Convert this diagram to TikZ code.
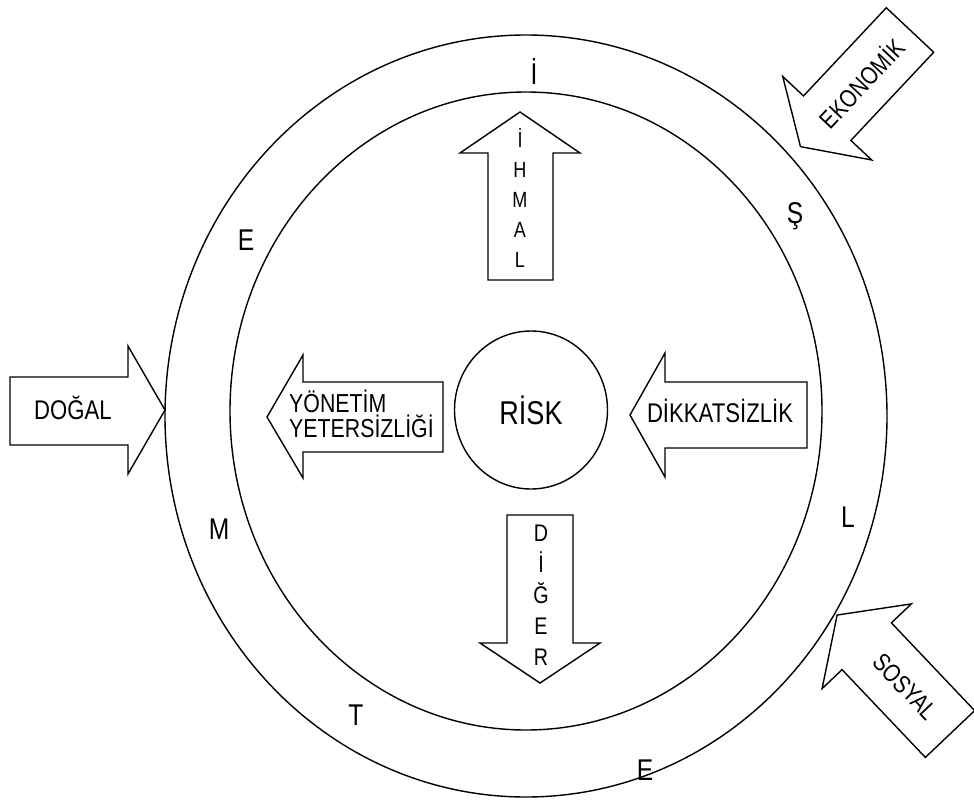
\documentclass[tikz,border=0pt]{standalone}
\usepackage{fontspec}
\setmainfont[FakeStretch=0.82]{Liberation Sans}
\usetikzlibrary{shapes.geometric}

\newcommand\fsz[2]{\fontsize{#1}{#2}\selectfont}

% block arrow along +x: tail at origin, length #1, head length #2,
% shaft half width #3, head half width #4
\newcommand\blockarrow[4]{%
  \draw[shapeline] (0,-#3) -- ({#1-#2},-#3) -- ({#1-#2},-#4) -- (#1,0)
    -- ({#1-#2},#4) -- ({#1-#2},#3) -- (0,#3) -- cycle;}

\begin{document}
\begin{tikzpicture}[x=1pt,y=-1pt,
  shapeline/.style={draw=black, line width=1.4pt, line join=miter, fill=white},
  ring/.style={draw=black, line width=1.4pt, ellipse, inner sep=0pt},
  lbl/.style={inner sep=0pt, text=black, font=\fsz{27}{27}},
  ringletter/.style={inner sep=0pt, text=black, font=\fsz{30}{30}},
  vletters/.style={inner sep=0pt, text=black, align=center},
]
\useasboundingbox (0,0) rectangle (974,803);

% the two rings
\node[ring, minimum width=722pt, minimum height=762pt] (outer) at (526,416) {};
\node[ring, minimum width=592pt, minimum height=638pt] (inner) at (526,411) {};

% letters set in the band between the rings
\node[ringletter] (r1) at (534,71)  {İ};
\node[ringletter] (r2) at (795,216) {Ş};
\node[ringletter] (r3) at (848,517) {L};
\node[ringletter] (r4) at (645,770) {E};
\node[ringletter] (r5) at (356,715) {T};
\node[ringletter] (r6) at (219,529) {M};
\node[ringletter] (r7) at (246,240) {E};

% centre
\node[ring, minimum width=153pt, minimum height=158pt, font=\fsz{33}{33}] (risk) at (531,410) {RİSK};

% DOGAL, pointing right onto the outer ring
\draw[shapeline] (10,377) -- (128,377) -- (128,346) -- (165,410)
  -- (128,474) -- (128,445) -- (10,445) -- cycle;
\node[lbl] (dogal) at (73,408) {DOĞAL};

% YONETIM YETERSIZLIGI, pointing left
\draw[shapeline] (443,382) -- (303,382) -- (303,355) -- (267,417)
  -- (303,478) -- (303,452) -- (443,452) -- cycle;
\node[lbl, align=left, anchor=west, font=\fsz{26}{25}] (yonetim) at (289,414) {YÖNETİM\\YETERSİZLİĞİ};

% DIKKATSIZLIK, pointing left
\draw[shapeline] (807,382) -- (665,382) -- (665,353) -- (630,415)
  -- (665,477) -- (665,448) -- (807,448) -- cycle;
\node[lbl] (dikkat) at (720,411) {DİKKATSİZLİK};

% IHMAL, pointing up
\draw[shapeline] (488,280) -- (488,153) -- (460,153) -- (520,112)
  -- (580,153) -- (553,153) -- (553,280) -- cycle;
\node[vletters, font=\fsz{22}{30}] (ihmal) at (520,198) {İ\\H\\M\\A\\L};

% DIGER, pointing down
\draw[shapeline] (507,515) -- (507,643) -- (480,643) -- (540,683)
  -- (600,643) -- (573,643) -- (573,515) -- cycle;
\node[vletters, font=\fsz{24}{31}] (diger) at (541,595) {D\\İ\\Ğ\\E\\R};

% EKONOMIK, coming in from the upper right
\begin{scope}[shift={(910,30)}, rotate=-133.2]
  \blockarrow{160}{39}{32.5}{61}
  \node[lbl, font=\fsz{25}{25}, rotate=46.8] (ekonomik) at (72,0) {EKONOMİK};
\end{scope}

% SOSYAL, coming in from the lower right
\begin{scope}[shift={(950,734)}, rotate=133.5]
  \blockarrow{164}{43}{34}{61.5}
  \node[lbl, font=\fsz{25}{25}, rotate=-46.5] (sosyal) at (65,0) {SOSYAL};
\end{scope}
\end{tikzpicture}
\end{document}
